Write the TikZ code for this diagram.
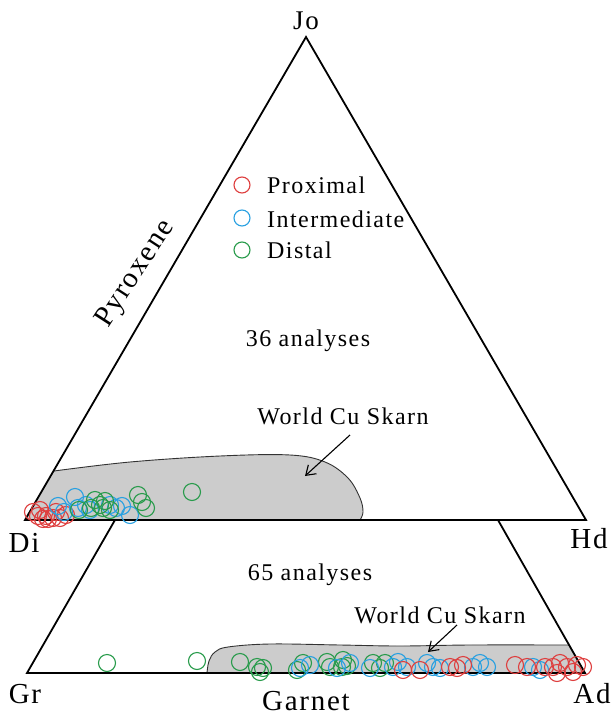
\documentclass[tikz,border=0pt]{standalone}
\usepackage{fontspec}
\setmainfont{Liberation Serif}[LetterSpace=6]
\usetikzlibrary{arrows.meta}
\definecolor{cprox}{RGB}{222,62,62}
\definecolor{cint}{RGB}{40,160,225}
\definecolor{cdist}{RGB}{40,155,75}
\definecolor{field}{RGB}{204,204,204}
\begin{document}
\begin{tikzpicture}[x=1pt,y=-1pt,
  edge/.style={line width=1.8pt, line join=miter},
  ptr/.style={line width=1.1pt, -{Straight Barb[length=9pt,width=12pt,line width=1.1pt]}},
  bigl/.style={font=\fontsize{29}{32}\selectfont, inner sep=0pt, anchor=base},
  midl/.style={font=\fontsize{24}{28}\selectfont, inner sep=0pt, anchor=base},
  pprox/.style={draw=cprox, line width=1.1pt},
  pint/.style={draw=cint, line width=1.1pt},
  pdist/.style={draw=cdist, line width=1.1pt}]
\useasboundingbox (0,0) rectangle (611,718);
% vertices
\coordinate (Jo) at (306,37);
\coordinate (Di) at (25,520);
\coordinate (Hd) at (586,520);
\coordinate (Lt) at (115,520);
\coordinate (Rt) at (498,520);
\coordinate (Gr) at (27,673);
\coordinate (Ad) at (585,673);
% World Cu Skarn fields
\fill[field] plot[smooth, tension=0.6] coordinates {(54,471) (130,462) (220,456) (290,455) (325,462) (348,478) (360,498) (363,512) (360,520)} -- (Di) -- cycle;
\draw[black!80, line width=0.9pt] plot[smooth, tension=0.6] coordinates {(54,471) (130,462) (220,456) (290,455) (325,462) (348,478) (360,498) (363,512) (360,520)};
\fill[field] plot[smooth, tension=0.6] coordinates {(207,673) (209,661) (215,652) (228,647) (270,644) (340,645) (400,646) (470,645) (569,645)} -- (Ad) -- cycle;
\draw[black!80, line width=0.9pt] plot[smooth, tension=0.6] coordinates {(207,673) (209,661) (215,652) (228,647) (270,644) (340,645) (400,646) (470,645) (569,645)};
% triangles
\draw[edge] (Di) -- (Jo) -- (Hd) -- cycle;
\draw[edge] (Lt) -- (Gr) -- (Ad) -- (Rt);
% labels
\node[bigl, font=\fontsize{27}{30}\selectfont] (jol) at (306,29) {Jo};
\node[bigl] (dil) at (24,552) {Di};
\node[bigl] (hdl) at (589,548) {Hd};
\node[bigl] (grl) at (25,703) {Gr};
\node[bigl] (adl) at (592,703) {Ad};
\node[bigl] (garnet) at (306,710) {Garnet};
\node[font=\fontsize{29}{32}\selectfont, inner sep=0pt, rotate=57] (pyx) at (136,274) {Pyroxene};
\node[midl] (an36) at (308,346) {36 analyses};
\node[midl] (an65) at (310,580) {65 analyses};
\node[midl] (wcs1) at (343,424) {World Cu Skarn};
\node[midl] (wcs2) at (440,623) {World Cu Skarn};
% arrows
\coordinate (a1s) at (350,435);
\coordinate (a1e) at (305,476);
\coordinate (a2s) at (457,625);
\coordinate (a2e) at (428,652);
\draw[ptr] (a1s) -- (a1e);
\draw[ptr] (a2s) -- (a2e);
% legend
\draw[pprox] (242,185) circle[radius=8pt];
\draw[pint] (242,218) circle[radius=8pt];
\draw[pdist] (242,250) circle[radius=8pt];
\node[midl, anchor=base west] (lp) at (267,193) {Proximal};
\node[midl, anchor=base west] (li) at (267,227) {Intermediate};
\node[midl, anchor=base west] (ld) at (267,258) {Distal};
% pyroxene data
\foreach \p in {(33,512),(40,510),(46,516),(53,518),(60,518),(66,515),(48,519),(56,512),(38,516),(43,519)}
  \draw[pprox] \p circle[radius=8.5pt];
\foreach \p in {(58,506),(64,512),(75,497),(78,508),(86,505),(90,510),(110,505),(116,508),(122,506),(130,515)}
  \draw[pint] \p circle[radius=8.5pt];
\foreach \p in {(79,510),(91,508),(95,500),(100,505),(105,501),(110,510),(103,508),(138,495),(142,502),(146,508),(192,492)}
  \draw[pdist] \p circle[radius=8.5pt];
% garnet data
\foreach \p in {(107,663),(197,661),(240,662),(257,667),(260,672),(263,668),(297,670),(303,663),(327,662),(330,667),(343,660),(342,667),(373,663),(380,668),(385,663),(347,666)}
  \draw[pdist] \p circle[radius=8.5pt];
\foreach \p in {(300,668),(310,665),(337,668),(350,663),(370,668),(398,662),(407,667),(427,663),(433,667),(440,668),(473,667),(480,663),(487,667),(533,667),(540,670),(393,667)}
  \draw[pint] \p circle[radius=8.5pt];
\foreach \p in {(403,670),(420,670),(457,668),(463,665),(515,665),(527,667),(553,667),(560,663),(567,667),(577,665),(583,667),(573,672),(557,673),(545,667),(450,667)}
  \draw[pprox] \p circle[radius=8.5pt];
\end{tikzpicture}
\end{document}
